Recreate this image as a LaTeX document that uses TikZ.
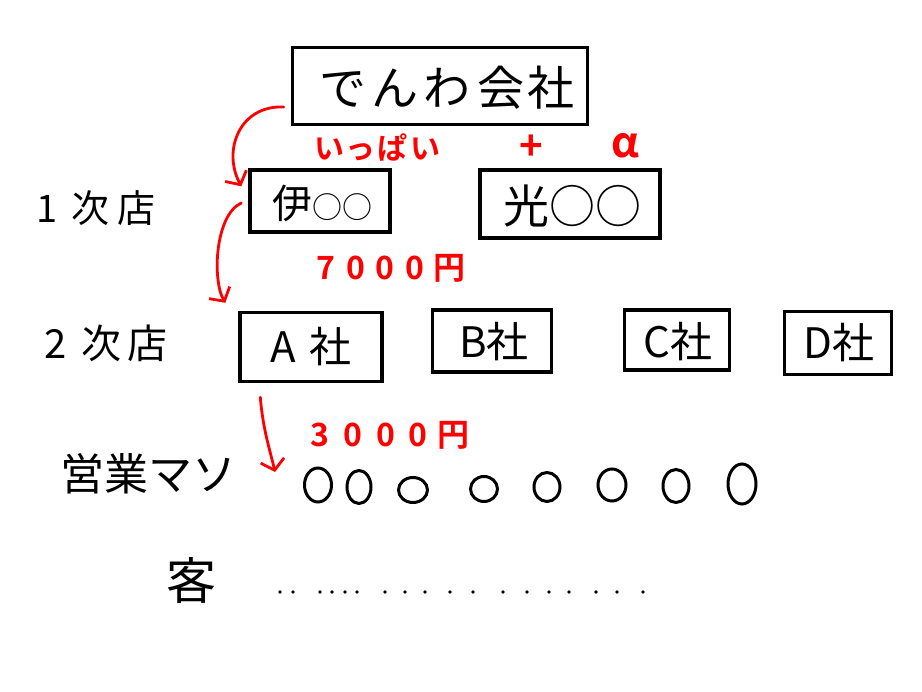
\documentclass[tikz,border=0pt]{standalone}
\usepackage{fontspec}
\setmainfont{Noto Sans CJK JP}[BoldFont={Noto Sans CJK JP Bold}]
\usetikzlibrary{arrows.meta,calc,shapes.geometric}
\definecolor{pen}{RGB}{255,0,0}
\tikzset{
  box/.style={draw=black, line width=3.4pt, inner sep=0pt, rectangle},
  lbl/.style={inner sep=0pt, text=black},
  redlbl/.style={inner sep=0pt, text=pen, font=\bfseries},
  redarrow/.style={draw=pen, line width=2.8pt, line cap=round, line join=round,
    -{Straight Barb[length=10pt,width=24pt,line width=2.8pt]}},
  pers/.style={draw=black, line width=3pt, ellipse, inner sep=0pt},
}
\newcommand{\fs}[1]{\fontsize{#1}{#1}\selectfont}
\begin{document}
\begin{tikzpicture}[x=1pt,y=-1pt]
\useasboundingbox[fill=white] (0,0) rectangle (922,692);

% top company
\node[box, minimum width=295pt, minimum height=77pt] (top) at (440,86) {};
\node[lbl] (topt) at (447,88) {\fs{47}で\hspace{5pt}ん\hspace{5pt}わ\hspace{7pt}会\hspace{3pt}社};

% red label
\node[redlbl] (ippai) at (377,148) {\fs{30}い\hspace{2pt}っ\hspace{2pt}ぱ\hspace{2pt}い};
\node[redlbl] (plus) at (531,148) {\fs{40}+};
\node[redlbl] (alpha) at (625,146) {\fs{42}α};

% first-tier row
\node[lbl] (t1) at (96,208) {\fs{38}1\hspace{14pt}次\hspace{8pt}店};
\node[box, minimum width=140pt, minimum height=62pt] (i1) at (320,201) {};
\node[lbl] (i1t) at (322,203) {\fs{40}伊{\fs{30}○○}};
\node[box, minimum width=180pt, minimum height=68pt] (h1) at (570,204) {};
\node[lbl] (h1t) at (572,206) {\fs{46}光○○};

\node[redlbl] (p7000) at (391,268) {\fs{32}7\hspace{11pt}0\hspace{11pt}0\hspace{11pt}0\hspace{9pt}円};

% second-tier row
\node[lbl] (t2) at (106,343) {\fs{40}2\hspace{14pt}次\hspace{6pt}店};
\node[box, minimum width=142pt, minimum height=69pt] (A) at (311,347) {};
\node[lbl] (At) at (311,347) {\fs{42}A\hspace{14pt}社};
\node[box, minimum width=119pt, minimum height=62pt] (B) at (492,341) {};
\node[lbl] (Bt) at (494,342) {\fs{42}B社};
\node[box, minimum width=105pt, minimum height=60pt] (C) at (677,340) {};
\node[lbl] (Ct) at (678,342) {\fs{42}C社};
\node[box, minimum width=107pt, minimum height=63pt] (D) at (838,343) {};
\node[lbl] (Dt) at (839,343) {\fs{42}D社};

\node[redlbl] (p3000) at (390,435) {\fs{32}3\hspace{14pt}0\hspace{14pt}0\hspace{14pt}0\hspace{10pt}円};

% sales row
\node[lbl] (sales) at (148,474) {\fs{44}営業マソ};
\node[pers, minimum width=27pt, minimum height=34pt] (p1) at (318,485) {};
\node[pers, minimum width=24pt, minimum height=33pt] (p2) at (359,487) {};
\node[pers, minimum width=29pt, minimum height=25pt] (p3) at (413,490) {};
\node[pers, minimum width=27pt, minimum height=25pt] (p4) at (484,489) {};
\node[pers, minimum width=26pt, minimum height=29pt] (p5) at (547,487) {};
\node[pers, minimum width=28pt, minimum height=32pt] (p6) at (612,485) {};
\node[pers, minimum width=26pt, minimum height=33pt] (p7) at (676,486) {};
\node[pers, minimum width=28pt, minimum height=40pt] (p8) at (742,484) {};

% customers
\node[lbl] (kyaku) at (191,580) {\fs{50}客};
\foreach \x in {280,293,320,332,345,357,385,405,425,450,473,503,527,549,569,596,617,643}
  \fill[black] (\x,592) circle (1.8pt);

% arrows
\draw[redarrow] ($(top.west)+(-7,21)$) .. controls (240,105) and (222,150) .. ($(i1.north west)+(-7,18)$);
\draw[redarrow] ($(i1.west)+(-7,2)$) .. controls (215,215) and (212,280) .. ($(A.north west)+(-13,-8)$);
\draw[redarrow] ($(A.south west)+(22,14)$) .. controls (263,430) and (270,450) .. ($(p1.west)+(-28,-13)$);
\end{tikzpicture}
\end{document}
